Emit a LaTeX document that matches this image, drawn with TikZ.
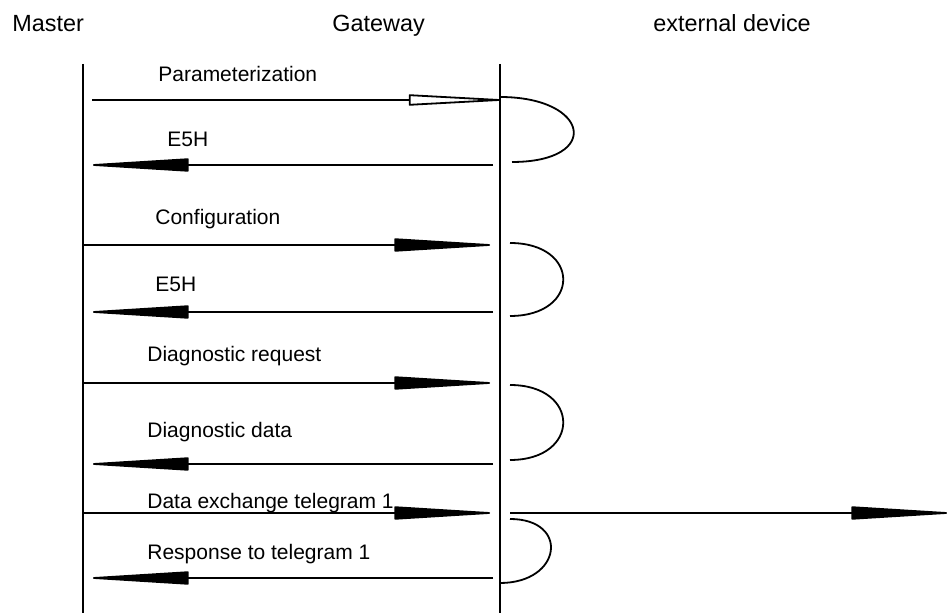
\documentclass[tikz,border=0pt]{standalone}
\usepackage{fontspec}
\setmainfont{Liberation Sans}
\usetikzlibrary{arrows.meta}

\begin{document}
\begin{tikzpicture}[
    x=0.5pt, y=-0.5pt,
    lifeline/.style = {line width=1pt},
    sendmsg/.style = {line width=0.9pt, -{Triangle[round, length=55pt, width=6.5pt]}},
    openmsg/.style = {line width=0.9pt, -{Triangle[round, open, length=54pt, width=5.5pt]}},
    turnaround/.style = {line width=0.9pt},
    headtext/.style = {anchor=base west, inner sep=0pt, font=\fontsize{11.7}{14}\selectfont},
    msgtext/.style = {anchor=base west, inner sep=0pt, font=\fontsize{10.5}{12.6}\selectfont}
]
  \useasboundingbox (0,0) rectangle (947,613);

  % headers
  \node (master)  [headtext] at (12,32)  {Master};
  \node (gateway) [headtext] at (332,32) {Gateway};
  \node (extdev)  [headtext] at (653,32) {external device};

  % lifelines
  \coordinate (mtop) at (83,64);  \coordinate (mbot) at (83,613);
  \coordinate (gtop) at (500,64); \coordinate (gbot) at (500,613);
  \draw[lifeline] (mtop) -- (mbot);
  \draw[lifeline] (gtop) -- (gbot);

  % message labels
  \node (param)    [msgtext] at (158,82)  {Parameterization};
  \node (e5ha)     [msgtext] at (167,147) {E5H};
  \node (config)   [msgtext] at (155,225) {Configuration};
  \node (e5hb)     [msgtext] at (155,292) {E5H};
  \node (diagreq)  [msgtext] at (147,362) {Diagnostic request};
  \node (diagdata) [msgtext] at (147,438) {Diagnostic data};
  \node (dataex)   [msgtext] at (147,509) {Data exchange telegram 1};
  \node (resp)     [msgtext] at (147,560) {Response to telegram 1};

  % end points
  \coordinate (m1) at (92,100);  \coordinate (g1) at (500,100);
  \coordinate (g2) at (493,165); \coordinate (m2) at (93,165);
  \coordinate (m3) at (83,245);  \coordinate (g3) at (490,245);
  \coordinate (g4) at (493,312); \coordinate (m4) at (93,312);
  \coordinate (m5) at (83,383);  \coordinate (g5) at (490,383);
  \coordinate (g6) at (493,464); \coordinate (m6) at (93,464);
  \coordinate (m7) at (83,513);  \coordinate (g7) at (490,513);
  \coordinate (g7b) at (510,513); \coordinate (ext) at (947,513);
  \coordinate (g8) at (493,578); \coordinate (m8) at (93,578);

  % messages
  \draw[openmsg] (m1) -- (g1);
  \draw[sendmsg] (g2) -- (m2);
  \draw[sendmsg] (m3) -- (g3);
  \draw[sendmsg] (g4) -- (m4);
  \draw[sendmsg] (m5) -- (g5);
  \draw[sendmsg] (g6) -- (m6);
  \draw[sendmsg] (m7) -- (g7);
  \draw[sendmsg] (g7b) -- (ext);
  \draw[sendmsg] (g8) -- (m8);

  % gateway turnarounds
  \coordinate (la) at (500,97);  \coordinate (lb) at (512,162);
  \coordinate (lc) at (510,243); \coordinate (ld) at (510,316);
  \coordinate (le) at (510,385); \coordinate (lf) at (510,460);
  \coordinate (lg) at (510,519); \coordinate (lh) at (500,583);
  \draw[turnaround] (la) .. controls ++(90,0) and ++(90,0) .. (lb);
  \draw[turnaround] (lc) .. controls ++(71,0) and ++(71,0) .. (ld);
  \draw[turnaround] (le) .. controls ++(71,0) and ++(71,0) .. (lf);
  \draw[turnaround] (lg) .. controls ++(60,0) and ++(62,0) .. (lh);

\end{tikzpicture}
\end{document}
